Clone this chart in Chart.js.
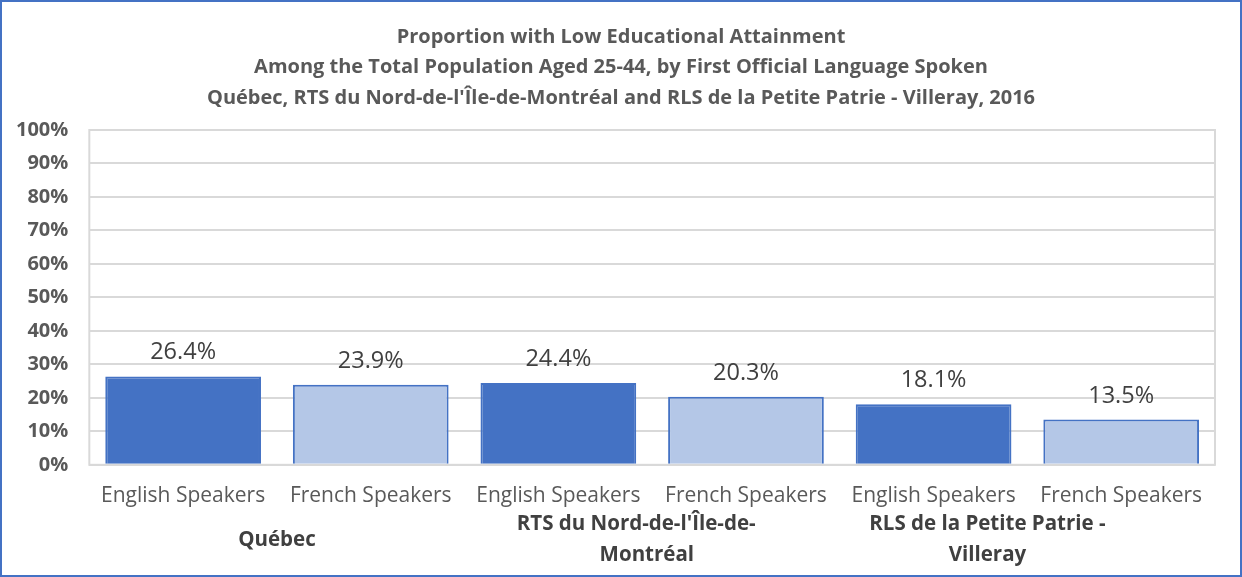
<!DOCTYPE html>
<html>
<head>
<meta charset="utf-8">
<script src="https://cdn.jsdelivr.net/npm/chart.js@4/dist/chart.umd.min.js"></script>
<style>
  html, body { margin: 0; padding: 0; background: #fff; }
  #wrap {
    width: 1242px; height: 577px; box-sizing: border-box;
    border: 2px solid #4472C4; background: #fff; position: relative;
  }
  #chart { display: block; }
</style>
</head>
<body>
<div id="wrap"><canvas id="chart" width="1238" height="573"></canvas></div>
<script>
// --- DATA ---
const categories = ['English Speakers', 'French Speakers', 'English Speakers', 'French Speakers', 'English Speakers', 'French Speakers'];
const groupLabels = [['Québec'], ["RTS du Nord-de-l'Île-de-", 'Montréal'], ['RLS de la Petite Patrie -', 'Villeray']];
const values = [26.4, 23.9, 24.4, 20.3, 18.1, 13.5];
const yTicks = [0, 10, 20, 30, 40, 50, 60, 70, 80, 90, 100];
const titleLines = [
    'Proportion with Low Educational Attainment',
    'Among the Total Population Aged 25-44, by First Official Language Spoken',
    "Québec, RTS du Nord-de-l'Île-de-Montréal and RLS de la Petite Patrie - Villeray, 2016"
];

const DARK = '#4472C4';
const LIGHT = '#B4C7E7';
const FONT = "'Open Sans', 'Liberation Sans', sans-serif";

// English = dark, French = light
const barColors = categories.map(c => c.startsWith('English') ? DARK : LIGHT);

// Excel wraps the group names with trailing blanks, which pulls them left a bit
const NB = '\u00A0';
const trail = [[0], [6, 2], [15, 15]];

// Helper: title centred on the whole canvas (Excel style), not on the padded box
const canvasTitle = {
    id: 'canvasTitle',
    afterDraw(chart) {
        const ctx = chart.ctx;
        ctx.save();
        ctx.font = 'bold 20px ' + FONT;
        ctx.fillStyle = '#595959';
        ctx.textAlign = 'center';
        ctx.textBaseline = 'middle';
        titleLines.forEach((s, k) => ctx.fillText(s, chart.width / 2, 35 + k * 30.5));
        ctx.restore();
    }
};

// Helper: draw value labels above bars
const valueLabels = {
    id: 'valueLabels',
    afterDatasetsDraw(chart) {
        const ctx = chart.ctx;
        const meta = chart.getDatasetMeta(0);
        ctx.save();
        ctx.font = '23.5px ' + FONT;
        ctx.fillStyle = '#404040';
        ctx.textAlign = 'center';
        ctx.textBaseline = 'bottom';
        meta.data.forEach((bar, i) => {
            ctx.fillText(values[i].toFixed(1) + '%', bar.x, bar.y - 12);
        });
        ctx.restore();
    }
};

// Helper: second row of x labels (one per pair of bars), vertically centred on two lines
const groupRow = {
    id: 'groupRow',
    afterDraw(chart) {
        const ctx = chart.ctx;
        const x = chart.scales.x;
        const lineH = 31;
        const midY = chart.chartArea.bottom + 75;
        ctx.save();
        ctx.font = 'bold 20.5px ' + FONT;
        ctx.fillStyle = '#404040';
        ctx.textAlign = 'center';
        ctx.textBaseline = 'middle';
        groupLabels.forEach((lines, g) => {
            const cx = (x.getPixelForValue(2 * g) + x.getPixelForValue(2 * g + 1)) / 2;
            lines.forEach((s, k) => {
                const y = midY + (k - (lines.length - 1) / 2) * lineH;
                ctx.fillText(s + NB.repeat(trail[g][k]), cx, y);
            });
        });
        ctx.restore();
    }
};

// Helper: box round the plot area
const plotBox = {
    id: 'plotBox',
    beforeDatasetsDraw(chart) {
        const a = chart.chartArea;
        const ctx = chart.ctx;
        ctx.save();
        ctx.strokeStyle = '#d9d9d9';
        ctx.lineWidth = 2;
        ctx.strokeRect(a.left, a.top, a.right - a.left, a.bottom - a.top);
        ctx.restore();
    }
};

new Chart(document.getElementById('chart').getContext('2d'), {
    type: 'bar',
    data: {
        labels: categories,
        datasets: [{
            data: values,
            backgroundColor: barColors,
            borderColor: DARK,
            borderWidth: { top: 2, left: 2, right: 2, bottom: 0 },
            borderSkipped: 'bottom',
            categoryPercentage: 1.0,
            barPercentage: 0.83
        }]
    },
    options: {
        responsive: false,
        animation: false,
        layout: { padding: { left: -7, right: 25, top: 128, bottom: 47 } },
        plugins: {
            legend: { display: false },
            tooltip: { enabled: false },
            title: { display: false }
        },
        scales: {
            x: {
                grid: { display: false, drawTicks: false },
                border: { display: false },
                ticks: {
                    color: '#595959',
                    font: { family: FONT, size: 21 },
                    maxRotation: 0, autoSkip: false, padding: 19
                }
            },
            y: {
                min: 0, max: 100,
                afterBuildTicks: axis => { axis.ticks = yTicks.map(v => ({ value: v })); },
                grid: { color: '#d9d9d9', lineWidth: 2, drawTicks: false },
                border: { display: false },
                ticks: {
                    color: '#595959',
                    font: { family: FONT, size: 20, weight: 'bold' },
                    padding: 21,
                    callback: v => v + '%'
                }
            }
        }
    },
    plugins: [plotBox, valueLabels, groupRow, canvasTitle]
});
</script>
</body>
</html>
